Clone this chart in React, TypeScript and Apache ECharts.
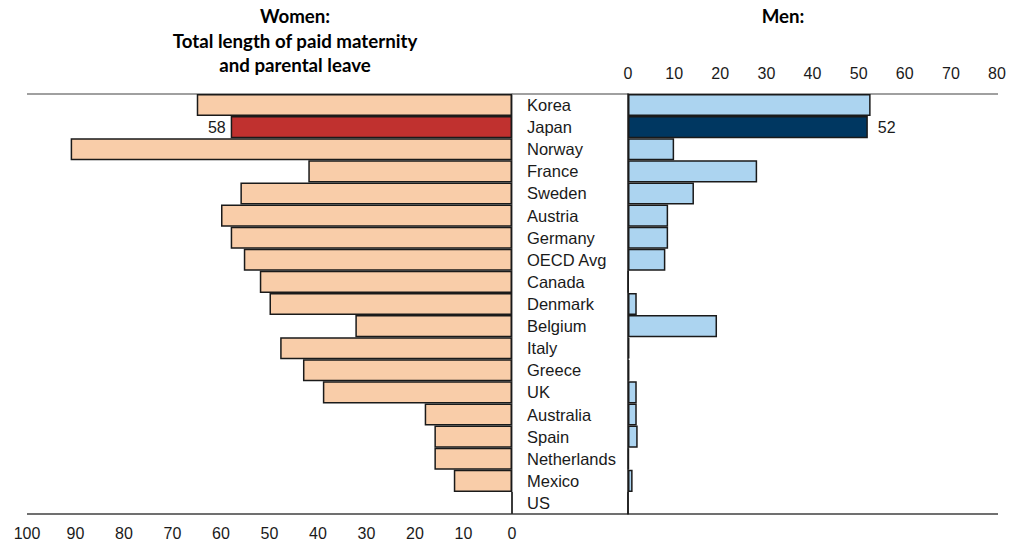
import React, { useEffect, useRef } from "react";
import * as echarts from "echarts";

const countries = ["Korea", "Japan", "Norway", "France", "Sweden", "Austria", "Germany", "OECD Avg", "Canada", "Denmark", "Belgium", "Italy", "Greece", "UK", "Australia", "Spain", "Netherlands", "Mexico", "US"];
const women = [65, 58, 91, 42, 56, 60, 58, 55.3, 52, 50, 32.3, 47.8, 43.1, 39, 18, 16, 16, 12, 0];
const men = [52.6, 52, 10, 28, 14.3, 8.7, 8.7, 8.1, 0.1, 1.9, 19.3, 0.3, 0.3, 1.9, 1.9, 2.1, 0.2, 1, 0];
const highlight = "Japan";
const womenTitle = "Women:\nTotal length of paid maternity\nand parental leave";
const menTitle = "Men:";

const FONT = "'Liberation Sans', Arial, sans-serif";
const TITLE_FONT = "Lato, 'Open Sans', sans-serif";

export default function App() {
  const ref = useRef<HTMLDivElement>(null);
  useEffect(() => {
    if (!ref.current) return;
    const chart = echarts.init(ref.current, undefined, { renderer: "svg" });
    const womenData = women.map((v, i) => {
      const isH = countries[i] === highlight;
      return {
        value: v,
        itemStyle: { color: isH ? "#C0312F" : "#F9CDA9" },
        label: isH
          ? { show: true, position: "left", distance: 5, formatter: "{c}", color: "#1a1a1a", fontSize: 16, fontFamily: FONT }
          : { show: false },
      };
    });
    const menData = men.map((v, i) => {
      const isH = countries[i] === highlight;
      return {
        value: v,
        itemStyle: { color: isH ? "#003761" : "#ACD4F0" },
        label: isH
          ? { show: true, position: "right", distance: 10, formatter: "{c}", color: "#1a1a1a", fontSize: 16, fontFamily: FONT }
          : { show: false },
      };
    });
    chart.setOption({
      animation: false,
      backgroundColor: "#ffffff",
      grid: [
        { left: 27, right: 1018 - 512, top: 94, bottom: 31 },
        { left: 628, right: 1018 - 997, top: 94, bottom: 31 },
      ],
      xAxis: [
        {
          gridIndex: 0, type: "value", inverse: true, min: 0, max: 100, interval: 10, position: "bottom",
          axisLine: { show: false }, axisTick: { show: false }, splitLine: { show: false },
          axisLabel: { color: "#1a1a1a", fontSize: 16, fontFamily: FONT, margin: 11 },
        },
        {
          gridIndex: 1, type: "value", min: 0, max: 80, interval: 10, position: "top",
          axisLine: { show: false }, axisTick: { show: false }, splitLine: { show: false },
          axisLabel: { color: "#1a1a1a", fontSize: 16, fontFamily: FONT, margin: 13 },
        },
      ],
      yAxis: [
        {
          gridIndex: 0, type: "category", data: countries, inverse: true, position: "right",
          axisLine: { show: true, lineStyle: { color: "#808080", width: 1.5 } },
          axisTick: { show: false },
          axisLabel: { align: "left", margin: 15, color: "#1a1a1a", fontSize: 16.5, fontFamily: FONT },
        },
        {
          gridIndex: 1, type: "category", data: countries, inverse: true, position: "left",
          axisLine: { show: true, lineStyle: { color: "#1a1a1a", width: 1.5 } },
          axisTick: { show: false }, axisLabel: { show: false },
        },
      ],
      series: [
        {
          type: "bar", xAxisIndex: 0, yAxisIndex: 0, data: womenData, barCategoryGap: "0%",
          itemStyle: { borderColor: "#1a1a1a", borderWidth: 1.5 },
        },
        {
          type: "bar", xAxisIndex: 1, yAxisIndex: 1, data: menData, barCategoryGap: "0%",
          itemStyle: { borderColor: "#1a1a1a", borderWidth: 1.5 },
        },
      ],
      graphic: [
        { type: "line", shape: { x1: 27, y1: 94, x2: 998, y2: 94 }, style: { stroke: "#808080", lineWidth: 1.5 }, z: 0 },
        { type: "line", shape: { x1: 27, y1: 514, x2: 998, y2: 514 }, style: { stroke: "#404040", lineWidth: 1.5 }, z: 0 },
        {
          type: "text", x: 295, y: 4,
          style: { text: womenTitle, textAlign: "center", fill: "#000", fontSize: 18.7, fontWeight: "bold", fontFamily: TITLE_FONT, lineHeight: 24.5 },
        },
        {
          type: "text", x: 783, y: 4,
          style: { text: menTitle, textAlign: "center", fill: "#000", fontSize: 18.7, fontWeight: "bold", fontFamily: TITLE_FONT, lineHeight: 24.5 },
        },
      ],
    });
    return () => chart.dispose();
  }, []);
  return <div ref={ref} style={{ width: 1018, height: 545, position: "absolute", left: 0, top: 0 }} />;
}
